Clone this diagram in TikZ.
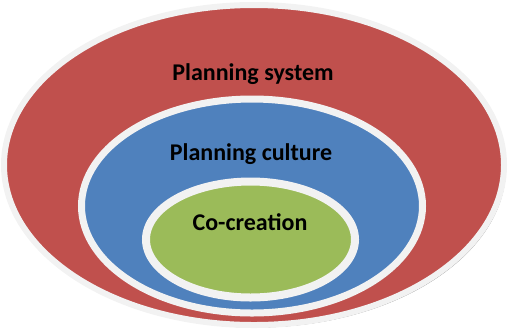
\documentclass[tikz,border=0pt]{standalone}
\usepackage{fontspec}
\setmainfont{Carlito}
\usetikzlibrary{shapes.geometric,shadows}
\definecolor{ringred}{HTML}{C0504D}
\definecolor{ringblue}{HTML}{4F81BD}
\definecolor{ringgreen}{HTML}{9BBB59}
\definecolor{rim}{HTML}{F2F2F2}
\tikzset{
  ring/.style={ellipse, draw=rim, inner sep=0pt, outer sep=0pt,
    drop shadow={shadow xshift=2bp, shadow yshift=-2.5bp, opacity=0.45, fill=black}},
  lbl/.style={font=\bfseries\fontsize{24bp}{26bp}\selectfont, text=black, inner sep=0pt}
}
\begin{document}
\begin{tikzpicture}[x=1bp,y=-1bp]
\useasboundingbox (0,0) rectangle (508,331);
\node[ring, fill=ringred, line width=6bp, minimum width=500bp, minimum height=320bp] (sys) at (254,165) {};
\node[ring, fill=ringblue, line width=7bp, minimum width=341bp, minimum height=214bp] (cul) at (252,206) {};
\node[ring, fill=ringgreen, line width=8bp, minimum width=209bp, minimum height=116bp] (co) at (250.5,239.5) {};
\node[lbl] (tsys) at (253,74) {Planning system};
\node[lbl] (tcul) at (251,154) {Planning culture};
\node[lbl] (tco) at (250,222) {Co-creation};
\end{tikzpicture}
\end{document}
